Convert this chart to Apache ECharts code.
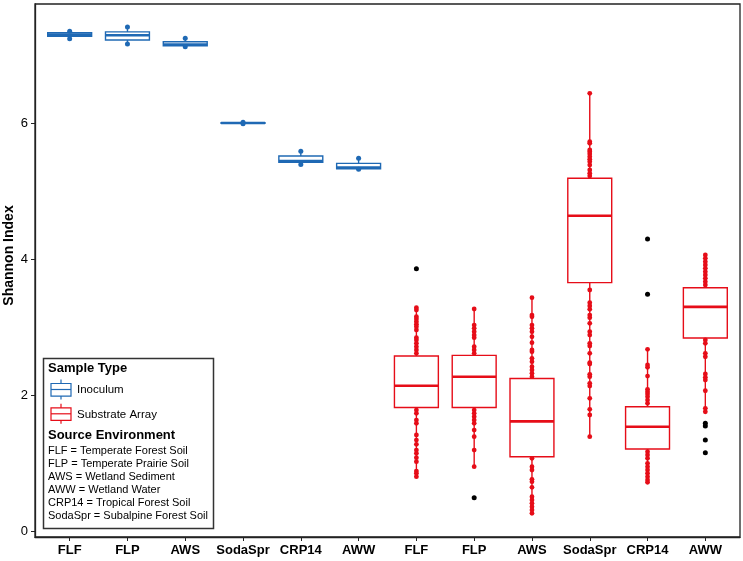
<!DOCTYPE html>
<html lang="en">
<head>
<meta charset="UTF-8">
<title>Shannon Index</title>
<style>html,body{margin:0;padding:0;background:#fff;}</style>
</head>
<body>
<div id="chart" style="width:743px;height:561px;"></div>
<script src="https://cdn.jsdelivr.net/npm/echarts@6/dist/echarts.min.js"></script>
<script>
// x categories: 6 inoculum boxes then 6 substrate array boxes
var categories = ['FLF', 'FLP', 'AWS', 'SodaSpr', 'CRP14', 'AWW', 'FLF', 'FLP', 'AWS', 'SodaSpr', 'CRP14', 'AWW'];
var yTicks = [0, 2, 4, 6];

// Inoculum (blue)
var inocMin = [7.24, 7.16, 7.12, 5.99, 5.39, 5.32];
var inocQ1  = [7.275, 7.22, 7.137, 5.995, 5.422, 5.328];
var inocMed = [7.30, 7.29, 7.155, 6.0, 5.44, 5.345];
var inocQ3  = [7.328, 7.34, 7.195, 6.005, 5.515, 5.407];
var inocMax = [7.35, 7.41, 7.245, 6.01, 5.584, 5.48];

// Substrate Array (red)
var subMin = [0.78, 0.946, 0.26, 1.387, 0.716, 1.731];
var subQ1  = [1.816, 1.816, 1.093, 3.652, 1.206, 2.838];
var subMed = [2.137, 2.268, 1.613, 4.637, 1.534, 3.296];
var subQ3  = [2.574, 2.583, 2.243, 5.187, 1.828, 3.578];
var subMax = [3.299, 3.265, 3.431, 6.437, 2.672, 4.059];

// individual samples drawn along the whiskers
var ptsFLF = [3.284, 3.25, 3.151, 3.118, 3.078, 3.04, 3.004, 2.956, 2.843, 2.809, 2.76, 2.71, 2.662, 2.613,
              1.779, 1.731, 1.632, 1.584, 1.412, 1.338, 1.275, 1.191, 1.143, 1.078, 1.019, 0.882, 0.849, 0.799];
var ptsFLP = [3.265, 3.029, 2.981, 2.931, 2.882, 2.843, 2.71, 2.662, 2.613,
              1.779, 1.731, 1.681, 1.632, 1.584, 1.485, 1.387, 1.191, 0.946];
var ptsAWS = [3.431, 3.176, 3.151, 3.029, 2.981, 2.931, 2.857, 2.769, 2.662, 2.637, 2.54, 2.49, 2.416, 2.368, 2.319, 2.269,
              1.069, 0.946, 0.897, 0.76, 0.725, 0.643, 0.504, 0.456, 0.407, 0.357, 0.309, 0.26];
var ptsSoda = [6.437, 5.725, 5.701, 5.603, 5.578, 5.544, 5.504, 5.466, 5.431, 5.382, 5.309, 5.26, 5.221,
               3.544, 3.357, 3.309, 3.26, 3.176, 3.137, 3.054, 2.931, 2.882, 2.76, 2.721, 2.613, 2.475, 2.456,
               2.304, 2.269, 2.172, 2.132, 1.951, 1.79, 1.706, 1.387];
var ptsCRP = [2.672, 2.441, 2.407, 2.279, 2.084, 2.049, 2.015, 1.975, 1.926, 1.878,
              1.166, 1.118, 1.069, 0.996, 0.946, 0.897, 0.849, 0.799, 0.75, 0.716];
var ptsAWW = [4.059, 4.01, 3.96, 3.912, 3.863, 3.813, 3.765, 3.716, 3.666, 3.618,
              2.809, 2.76, 2.613, 2.563, 2.309, 2.26, 2.221, 2.063, 1.804, 1.754];
var subPoints = [ptsFLF, ptsFLP, ptsAWS, ptsSoda, ptsCRP, ptsAWW];

// outliers (black)
var outX = [6, 7, 10, 10, 11, 11, 11, 11];
var outY = [3.857, 0.49, 4.294, 3.48, 1.584, 1.544, 1.338, 1.151];

var BLUE = '#1f69b4';
var RED = '#e60d18';

var inocBoxes = [], inocDots = [];
for (var i = 0; i < 6; i++) {
	inocBoxes.push([i, inocMin[i], inocQ1[i], inocMed[i], inocQ3[i], inocMax[i]]);
	inocDots.push([i, inocMin[i]]);
	inocDots.push([i, inocMax[i]]);
}
var subBoxes = [], subDots = [];
for (var j = 0; j < 6; j++) {
	subBoxes.push([j + 6, subMin[j], subQ1[j], subMed[j], subQ3[j], subMax[j]]);
	for (var k = 0; k < subPoints[j].length; k++) {
		subDots.push([j + 6, subPoints[j][k]]);
	}
}
var outliers = [];
for (var m = 0; m < outX.length; m++) {
	outliers.push([outX[m], outY[m]]);
}

// ggplot style box: no whisker caps, thicker median
function boxRenderer(color) {
	return function (params, api) {
		var x = api.value(0);
		var lo = api.coord([x, api.value(1)]);
		var q1 = api.coord([x, api.value(2)]);
		var md = api.coord([x, api.value(3)]);
		var q3 = api.coord([x, api.value(4)]);
		var hi = api.coord([x, api.value(5)]);
		var half = api.size([0.76, 0])[0] / 2;
		return {
			type: 'group',
			children: [
				{type: 'line', shape: {x1: lo[0], y1: lo[1], x2: q1[0], y2: q1[1]}, style: {stroke: color, lineWidth: 1.4}},
				{type: 'line', shape: {x1: q3[0], y1: q3[1], x2: hi[0], y2: hi[1]}, style: {stroke: color, lineWidth: 1.4}},
				{type: 'rect', shape: {x: q3[0] - half, y: q3[1], width: half * 2, height: q1[1] - q3[1]},
					style: {fill: '#fff', stroke: color, lineWidth: 1.4}},
				{type: 'line', shape: {x1: md[0] - half, y1: md[1], x2: md[0] + half, y2: md[1]}, style: {stroke: color, lineWidth: 2.6}}
			]
		};
	};
}

var FONT = 'Liberation Sans';
var legendLines = [
	'FLF = Temperate Forest Soil',
	'FLP = Temperate Prairie Soil',
	'AWS = Wetland Sediment',
	'AWW = Wetland Water',
	'CRP14 = Tropical Forest Soil',
	'SodaSpr = Subalpine Forest Soil'
];

function legendIcon(y, color) {
	// small box glyph, y = top of whisker
	return [
		{type: 'line', z: 52, shape: {x1: 61, y1: y, x2: 61, y2: y + 20}, style: {stroke: color, lineWidth: 1.2}},
		{type: 'rect', z: 53, shape: {x: 51, y: y + 4, width: 20, height: 12.6}, style: {fill: '#fff', stroke: color, lineWidth: 1.2}},
		{type: 'line', z: 54, shape: {x1: 51, y1: y + 10, x2: 71, y2: y + 10}, style: {stroke: color, lineWidth: 1.2}}
	];
}

var graphics = [
	{type: 'rect', shape: {x: 43.5, y: 358.5, width: 170, height: 170}, style: {fill: '#fff', stroke: '#333', lineWidth: 1.5}, z: 50},
	{type: 'text', x: 48, y: 368.5, z: 51, style: {text: 'Sample Type', font: 'bold 13px "' + FONT + '"', fill: '#000', verticalAlign: 'middle'}},
	{type: 'text', x: 77, y: 390, z: 51, style: {text: 'Inoculum', font: '11.5px "' + FONT + '"', fill: '#000', verticalAlign: 'middle'}},
	{type: 'text', x: 77, y: 414.5, z: 51, style: {text: 'Substrate Array', font: '11.5px "' + FONT + '"', fill: '#000', verticalAlign: 'middle'}},
	{type: 'text', x: 48, y: 435, z: 51, style: {text: 'Source Environment', font: 'bold 13px "' + FONT + '"', fill: '#000', verticalAlign: 'middle'}}
];
graphics = graphics.concat(legendIcon(379.5, BLUE), legendIcon(403.8, RED));
for (var n = 0; n < legendLines.length; n++) {
	graphics.push({type: 'text', x: 48, y: 450.8 + n * 13.1, z: 51,
		style: {text: legendLines[n], font: '11px "' + FONT + '"', fill: '#000', verticalAlign: 'middle'}});
}

var myChart = echarts.init(document.getElementById('chart'));
var option = {
	animation: false,
	textStyle: {fontFamily: FONT},
	grid: {left: 35, right: 3, top: 4, bottom: 24, containLabel: false, outerBoundsMode: 'none',
		show: true, borderColor: '#222', borderWidth: 1.3},
	xAxis: {
		type: 'value',
		min: -0.6,
		max: 11.6,
		splitLine: {show: false},
		axisLine: {show: true, onZero: false, lineStyle: {color: '#222', width: 1.3}},
		axisTick: {show: true, length: 4, lineStyle: {color: '#222'}, customValues: [0, 1, 2, 3, 4, 5, 6, 7, 8, 9, 10, 11]},
		axisLabel: {
			customValues: [0, 1, 2, 3, 4, 5, 6, 7, 8, 9, 10, 11],
			formatter: function (v) { return categories[Math.round(v)]; },
			color: '#000', fontWeight: 'bold', fontSize: 13, margin: 7
		}
	},
	yAxis: {
		type: 'value',
		min: -0.088,
		max: 7.75,
		name: 'Shannon Index',
		nameLocation: 'middle',
		nameGap: 19,
		nameMoveOverlap: false,
		nameTextStyle: {color: '#000', fontWeight: 'bold', fontSize: 14, padding: [0, 0, 0, 30]},
		splitLine: {show: false},
		axisLine: {show: true, onZero: false, lineStyle: {color: '#222', width: 1.3}},
		axisTick: {show: true, length: 4, lineStyle: {color: '#222'}, customValues: yTicks},
		axisLabel: {customValues: yTicks, color: '#000', fontSize: 13, margin: 7}
	},
	graphic: graphics,
	series: [
		{name: 'Inoculum', type: 'custom', renderItem: boxRenderer(BLUE), data: inocBoxes, encode: {x: 0, y: [1, 2, 3, 4, 5]}, z: 2},
		{name: 'Substrate Array', type: 'custom', renderItem: boxRenderer(RED), data: subBoxes, encode: {x: 0, y: [1, 2, 3, 4, 5]}, z: 2},
		{name: 'Inoculum points', type: 'scatter', data: inocDots, symbolSize: 5, itemStyle: {color: BLUE, opacity: 1}, z: 3},
		{name: 'Substrate points', type: 'scatter', data: subDots, symbolSize: 4.8, itemStyle: {color: RED, opacity: 1}, z: 3},
		{name: 'Outliers', type: 'scatter', data: outliers, symbolSize: 5, itemStyle: {color: '#000', opacity: 1}, z: 3}
	]
};
myChart.setOption(option);
</script>
</body>
</html>
